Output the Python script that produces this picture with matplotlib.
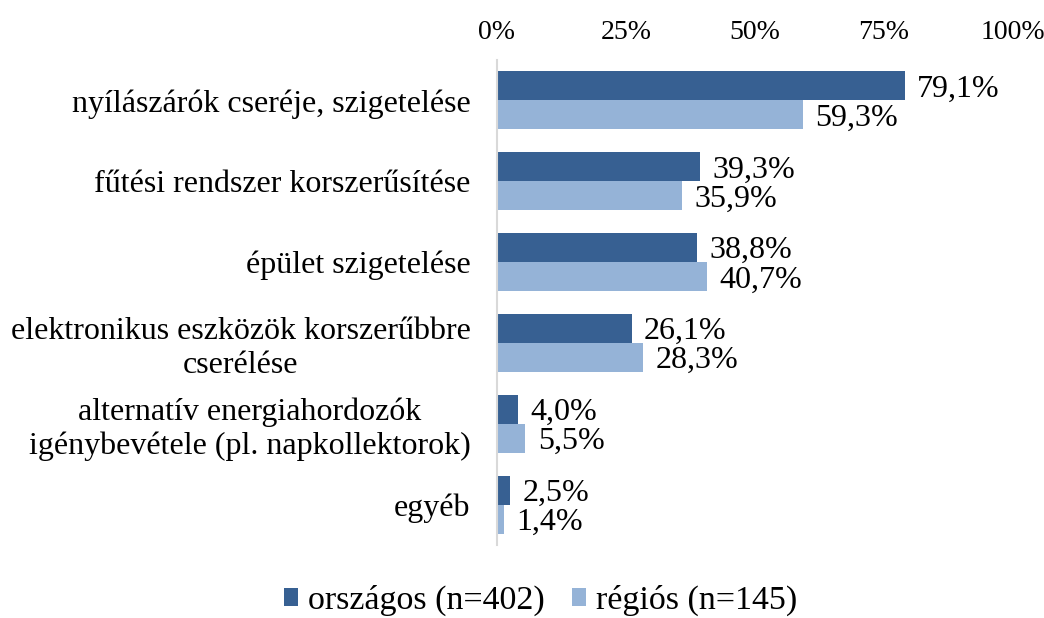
import numpy as np
import matplotlib.pyplot as plt

categories = [
    "nyílászárók cseréje, szigetelése",
    "fűtési rendszer korszerűsítése",
    "épület szigetelése",
    "elektronikus eszközök korszerűbbre\ncserélése",
    "alternatív energiahordozók\nigénybevétele (pl. napkollektorok)",
    "egyéb",
]
orszagos = [79.1, 39.3, 38.8, 26.1, 4.0, 2.5]
regios = [59.3, 35.9, 40.7, 28.3, 5.5, 1.4]
series_names = ["országos (n=402)", "régiós (n=145)"]
ticks = [0, 25, 50, 75, 100]

plt.rcParams['font.family'] = ['Liberation Serif', 'DejaVu Serif']

fig = plt.figure(figsize=(10.44, 6.18), dpi=100)
ax = fig.add_axes([0.476, 0.118, 0.494, 0.785])

y = np.arange(len(categories))
h = 0.36
dark = "#376092"
light = "#95b3d7"

b1 = ax.barh(y - h / 2, orszagos, height=h, color=dark, label=series_names[0])
b2 = ax.barh(y + h / 2, regios, height=h, color=light, label=series_names[1])

for bars, vals in ((b1, orszagos), (b2, regios)):
    for bar, v in zip(bars, vals):
        ax.text(bar.get_width() + 2.4, bar.get_y() + bar.get_height() / 2 + 0.04,
                f"{v:.1f}%".replace(".", ","), va="center", ha="left", fontsize=23)

ax.set_xlim(0, 100)
ax.set_ylim(len(categories) - 0.5, -0.5)
ax.set_xticks(ticks)
ax.set_xticklabels([f"{t}%" for t in ticks], fontsize=20)
ax.xaxis.tick_top()
ax.tick_params(axis="x", length=0, pad=11)
ax.set_yticks(y)
ax.set_yticklabels(categories, fontsize=23, multialignment="center")
ax.tick_params(axis="y", length=0, pad=19)

for s in ["top", "right", "bottom"]:
    ax.spines[s].set_visible(False)
ax.spines["left"].set_color("#d9d9d9")
ax.spines["left"].set_linewidth(1.5)

fig.legend(handles=[b1, b2], labels=series_names, loc="lower center",
           bbox_to_anchor=(0.518, -0.047), ncol=2, frameon=False, fontsize=24.5,
           handlelength=0.4, handleheight=0.4, handletextpad=0.3, columnspacing=0.8)

fig.savefig("out.png", dpi=100)
